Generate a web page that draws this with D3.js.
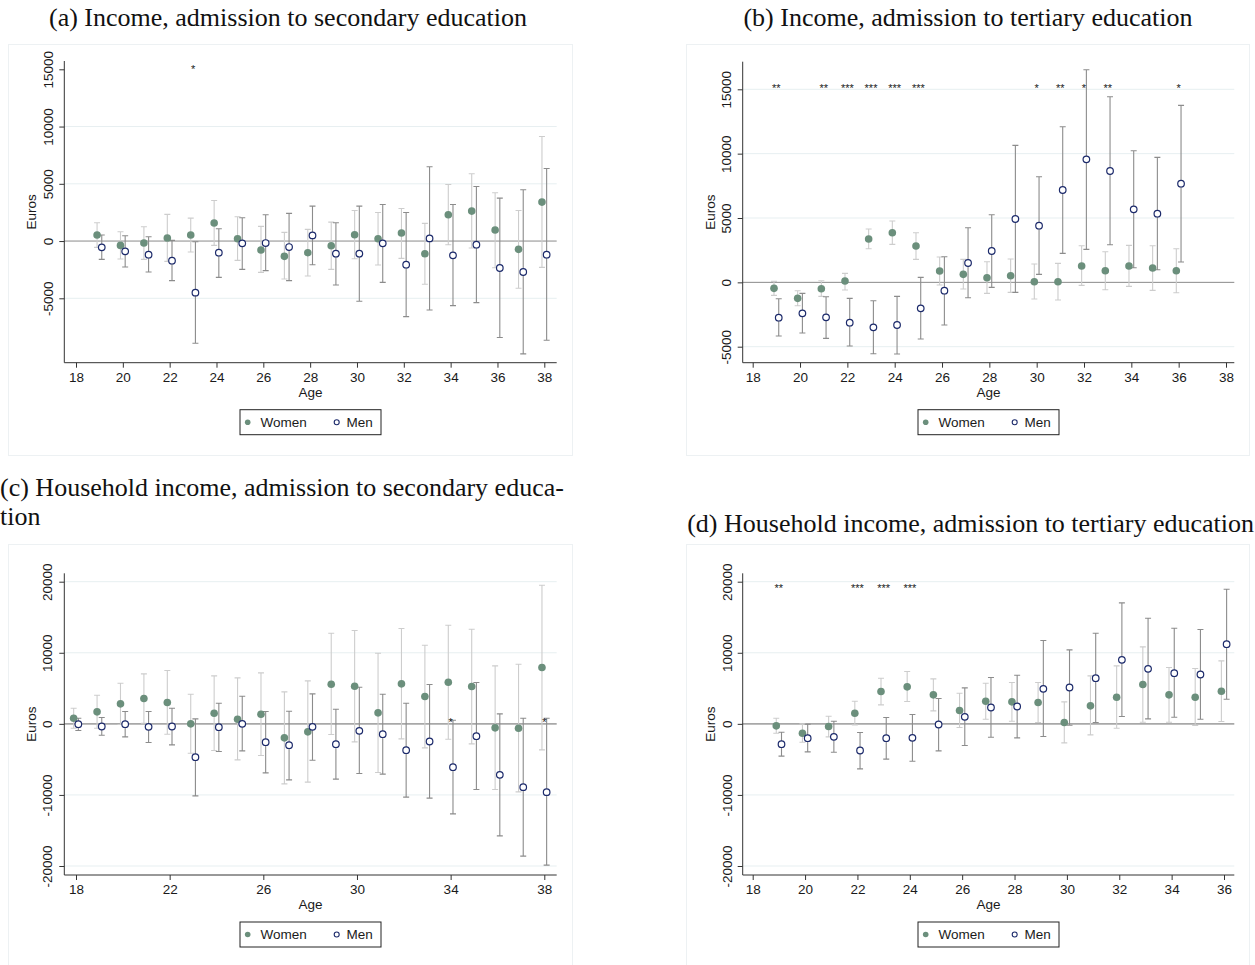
<!DOCTYPE html>
<html>
<head>
<meta charset="utf-8">
<script src="https://cdn.jsdelivr.net/npm/d3@7/dist/d3.min.js"></script>
<style>
    body { margin: 0; background: #fff; }
    svg { display: block; }
    .tick-label, .axis-title, .legend-text { font-family: "Liberation Sans", Arial, sans-serif; fill: #1a1a1a; }
    .panel-title { font-family: "Liberation Serif", "Times New Roman", serif; fill: #111; }
</style>
</head>
<body>
<svg id="base" width="1255" height="965"></svg>
<script>
// ---- data ----

// (a) Income, admission to secondary education
const agesA = [19, 20, 21, 22, 23, 24, 25, 26, 27, 28, 29, 30, 31, 32, 33, 34, 35, 36, 37, 38];
const womenA = [523, -378, -174, 262, 523, 1570, 203, -785, -1337, -1017, -407, 552, 203, 698, -1105, 2297, 2616, 959, -727, 3401];
const womenLoA = [-550, -1570, -1600, -1773, -959, -378, -1686, -2733, -3314, -3052, -2471, -1541, -2093, -1512, -3779, -320, -610, -2326, -4128, -2297];
const womenHiA = [1600, 814, 1250, 2326, 2006, 3547, 2122, 1279, 756, 1017, 1657, 2674, 2500, 2849, 1541, 4942, 5872, 4215, 2674, 9128];
const menA = [-552, -901, -1192, -1715, -4506, -1017, -203, -174, -523, 494, -1105, -1105, -203, -2064, 233, -1250, -320, -2355, -2703, -1192];
const menLoA = [-1600, -2267, -2703, -3459, -8925, -3169, -2471, -2587, -3459, -2064, -3837, -5262, -3605, -6599, -6017, -5640, -5378, -8430, -9855, -8663];
const menHiA = [523, 465, 378, 58, -58, 1076, 2035, 2297, 2413, 3052, 1599, 3052, 3198, 2500, 6483, 3198, 4767, 3750, 4477, 6337];
const starAgesA = [23];
const starsA = ["*"];

// (b) Income, admission to tertiary education
const agesB = [19, 20, 21, 22, 23, 24, 25, 26, 27, 28, 29, 30, 31, 32, 33, 34, 35, 36];
const womenB = [-466, -1243, -492, 104, 3367, 3859, 2823, 881, 622, 363, 518, 52, 52, 1269, 907, 1269, 1114, 907];
const womenLoB = [-1010, -1813, -1088, -596, 2616, 2953, 1787, -207, -518, -855, -777, -1295, -1373, -233, -570, -311, -622, -803];
const womenHiB = [78, -648, 130, 699, 4144, 4766, 3859, 1968, 1787, 1606, 1813, 1425, 1476, 2849, 2383, 2875, 2849, 2616];
const menB = [-2745, -2409, -2720, -3134, -3497, -3315, -2020, -648, 1502, 2435, 4921, 4403, 7174, 9557, 8651, 5672, 5335, 7666];
const menLoB = [-4170, -3937, -4351, -4947, -5543, -5569, -4403, -3315, -1191, -389, -777, 622, 2253, 2564, 2927, 1140, 984, 1580];
const menHiB = [-1269, -855, -1114, -1243, -1425, -1088, 389, 1994, 4248, 5258, 10645, 8210, 12095, 16524, 14426, 10231, 9713, 13753];
const starAgesB = [19, 21, 22, 23, 24, 25, 30, 31, 32, 33, 36];
const starsB = ["**", "**", "***", "***", "***", "***", "*", "**", "*", "**", "*"];

// (c) Household income, admission to secondary education
const agesC = [18, 19, 20, 21, 22, 23, 24, 25, 26, 27, 28, 29, 30, 31, 32, 33, 34, 35, 36, 37, 38];
const womenC = [797, 1688, 2813, 3564, 3001, 0, 1500, 656, 1360, -1969, -1125, 5580, 5299, 1547, 5627, 3845, 5861, 5252, -563, -610, 7924];
const womenLoC = [-610, -610, -94, 94, -1454, -4126, -3751, -5064, -4455, -8440, -8206, -1500, -2532, -6846, -2110, -3376, -2157, -2813, -9237, -9566, -3657];
const womenHiC = [2204, 4033, 5721, 7034, 7502, 4173, 6752, 6471, 7174, 4501, 6049, 12754, 13129, 9941, 13411, 11066, 13879, 13317, 8159, 8393, 19506];
const menC = [-47, -375, -47, -422, -375, -4689, -469, 0, -2579, -3001, -422, -2860, -985, -1454, -3704, -2485, -6096, -1735, -7174, -8909, -9612];
const menLoC = [-938, -1594, -1829, -2626, -2954, -10128, -3892, -3798, -6893, -7878, -5111, -7784, -6987, -7080, -10316, -10456, -12660, -9237, -15755, -18615, -19881];
const menHiC = [797, 891, 1735, 1735, 2204, 703, 2907, 3892, 1735, 1782, 4220, 2063, 5158, 4173, 2907, 5533, 516, 5814, 1407, 797, 797];
const starAgesC = [34, 38];
const starsC = ["*", "*"];

// (d) Household income, admission to tertiary education
const agesD = [19, 20, 21, 22, 23, 24, 25, 26, 27, 28, 29, 30, 31, 32, 33, 34, 35, 36];
const womenD = [-281, -1313, -375, 1500, 4548, 5205, 4080, 1876, 3189, 3095, 3001, 188, 2532, 3751, 5533, 4080, 3751, 4595];
const womenLoD = [-1313, -2579, -1829, -141, 2673, 3142, 1829, -516, 656, 375, 188, -2673, -1547, -610, 234, 234, -234, 328];
const womenHiD = [797, 0, 1078, 3189, 6424, 7362, 6330, 4314, 5721, 5814, 5814, 3095, 6752, 8159, 10832, 7924, 7784, 8862];
const menD = [-2860, -2016, -1829, -3751, -2016, -1969, -94, 985, 2298, 2438, 4923, 5111, 6424, 9003, 7737, 7127, 6940, 11207];
const menLoD = [-4548, -3939, -3986, -6330, -4970, -5252, -3798, -3048, -1876, -1969, -1782, -188, 188, 1032, 703, 938, 656, 3470];
const menHiD = [-1172, -47, 375, -1219, 891, 1313, 3564, 5064, 6518, 6846, 11723, 10410, 12754, 17021, 14864, 13457, 13270, 18944];
const starAgesD = [19, 22, 23, 24];
const starsD = ["**", "***", "***", "***"];

// tick values
const xTicksAB = [18, 20, 22, 24, 26, 28, 30, 32, 34, 36, 38];
const xTicksC = [18, 22, 26, 30, 34, 38];
const xTicksD = [18, 20, 22, 24, 26, 28, 30, 32, 34, 36];
const yTicksAB = [-5000, 0, 5000, 10000, 15000];
const yTicksCD = [-20000, -10000, 0, 10000, 20000];

// ---- drawing ----

const base = d3.select("#base");
const womenColor = "#6b8f7c";
const menColor = "#1c2a6b";
const womenCiColor = "#cdcdcd";
const menCiColor = "#8c8c8c";
const gridColor = "#e7eff1";

function makePanel(p) {
    const g = base.append("g");

    // graph region outline
    g.append("rect")
        .attr("x", p.region[0]).attr("y", p.region[1])
        .attr("width", p.region[2]).attr("height", p.region[3])
        .attr("fill", "none").attr("stroke", "#edf1f3").attr("stroke-width", 1);

    const x = d3.scaleLinear().domain(p.xDomain).range(p.xRange);
    const y = d3.scaleLinear().domain(p.yDomain).range(p.yRange);

    // gridlines
    g.selectAll(".grid")
        .data(p.yTicks.filter((t) => t !== 0 && !p.noGrid.includes(t)))
        .enter()
        .append("line")
        .attr("x1", p.left).attr("x2", p.right)
        .attr("y1", (d) => y(d)).attr("y2", (d) => y(d))
        .attr("stroke", gridColor).attr("stroke-width", 1);

    // zero line
    g.append("line")
        .attr("x1", p.left).attr("x2", p.right)
        .attr("y1", y(0)).attr("y2", y(0))
        .attr("stroke", p.zeroColor).attr("stroke-width", p.zeroWidth);

    // axes (Stata prints a plain hyphen for negatives)
    const fmt = (d) => String(d);
    const yAxis = d3.axisLeft(y).tickValues(p.yTicks).tickSize(5).tickFormat(fmt);
    const yg = g.append("g").attr("transform", `translate(${p.left},0)`).call(yAxis);
    yg.select(".domain").attr("d", `M0,${p.top}V${p.bottom}`).attr("stroke", "#333");
    yg.selectAll(".tick line").attr("stroke", "#333");
    yg.selectAll(".tick text")
        .attr("class", "tick-label")
        .attr("font-size", "13.5px")
        .attr("text-anchor", "middle")
        .attr("x", null).attr("dy", null)
        .attr("transform", "translate(" + (p.yLabelX - p.left + 4.8) + ",0) rotate(-90)")
        .attr("y", 0);

    const xAxis = d3.axisBottom(x).tickValues(p.xTicks).tickSize(5).tickFormat(fmt);
    const xg = g.append("g").attr("transform", `translate(0,${p.bottom})`).call(xAxis);
    xg.select(".domain").attr("d", `M${p.left},0H${p.right}`).attr("stroke", "#333");
    xg.selectAll(".tick line").attr("stroke", "#333");
    xg.selectAll(".tick text")
        .attr("class", "tick-label")
        .attr("font-size", "13.5px")
        .attr("dy", null)
        .attr("y", 19);
    base.selectAll(".domain, .tick line").attr("stroke-width", 1);
    g.selectAll("g").attr("font-family", null).attr("font-size", null);

    // axis titles
    g.append("text")
        .attr("class", "axis-title")
        .attr("font-size", "13.5px")
        .attr("text-anchor", "middle")
        .attr("x", (p.left + p.right) / 2)
        .attr("y", p.bottom + 34)
        .text("Age");
    g.append("text")
        .attr("class", "axis-title")
        .attr("font-size", "13.5px")
        .attr("text-anchor", "middle")
        .attr("transform", `translate(${p.yTitleX + 4.8},${(p.top + p.bottom) / 2}) rotate(-90)`)
        .text("Euros");

    // confidence intervals
    function ci(ages, lo, hi, off, color) {
        const rows = ages.map((a, i) => ({ a: a + off, lo: lo[i], hi: hi[i] }));
        const cg = g.append("g").attr("stroke", color).attr("stroke-width", 1.1).attr("fill", "none");
        cg.selectAll("path")
            .data(rows)
            .enter()
            .append("path")
            .attr("d", (d) => {
                const cx = x(d.a), y0 = y(d.lo), y1 = y(d.hi);
                return `M${cx - 3},${y0}H${cx + 3}M${cx},${y0}V${y1}M${cx - 3},${y1}H${cx + 3}`;
            });
    }
    ci(p.ages, p.womenLo, p.womenHi, -0.1, womenCiColor);
    ci(p.ages, p.menLo, p.menHi, 0.1, menCiColor);

    // point estimates
    g.selectAll(".women")
        .data(p.ages)
        .enter()
        .append("circle")
        .attr("cx", (d) => x(d - 0.1))
        .attr("cy", (d, i) => y(p.women[i]))
        .attr("r", 3.8)
        .attr("fill", womenColor);
    g.selectAll(".men")
        .data(p.ages)
        .enter()
        .append("circle")
        .attr("cx", (d) => x(d + 0.1))
        .attr("cy", (d, i) => y(p.men[i]))
        .attr("r", 3.3)
        .attr("fill", "#fff")
        .attr("stroke", menColor)
        .attr("stroke-width", 1.2);

    // significance stars
    g.selectAll(".star")
        .data(p.starAges)
        .enter()
        .append("text")
        .attr("class", "axis-title")
        .attr("font-size", "11px")
        .attr("text-anchor", "middle")
        .attr("x", (d) => x(d))
        .attr("y", p.starY + 6)
        .text((d, i) => p.stars[i]);

    // legend
    const lx = (p.left + p.right) / 2 - 70.5;
    const ly = p.bottom + 47;
    const lg = g.append("g");
    lg.append("rect")
        .attr("x", lx).attr("y", ly).attr("width", 141).attr("height", 25)
        .attr("fill", "#fff").attr("stroke", "#222").attr("stroke-width", 1);
    lg.append("circle").attr("cx", lx + 7.7).attr("cy", ly + 12.5).attr("r", 2.8).attr("fill", womenColor);
    lg.append("text").attr("class", "legend-text").attr("font-size", "13.5px")
        .attr("x", lx + 20.5).attr("y", ly + 17.3).text("Women");
    lg.append("circle").attr("cx", lx + 96.7).attr("cy", ly + 12.5).attr("r", 2.5)
        .attr("fill", "#fff").attr("stroke", menColor).attr("stroke-width", 1.1);
    lg.append("text").attr("class", "legend-text").attr("font-size", "13.5px")
        .attr("x", lx + 106.5).attr("y", ly + 17.3).text("Men");
}

makePanel({
    region: [8.5, 44.5, 564, 411], left: 64.3, right: 556.7, top: 61, bottom: 362.7,
    xDomain: [18, 38], xRange: [76, 544.3], yDomain: [-5000, 15000], yRange: [298.3, 69.3],
    xTicks: xTicksAB, yTicks: yTicksAB, noGrid: [15000], yLabelX: 48.3, yTitleX: 31,
    zeroColor: "#8a8a8a", zeroWidth: 1, starY: 66.7,
    ages: agesA, women: womenA, womenLo: womenLoA, womenHi: womenHiA,
    men: menA, menLo: menLoA, menHi: menHiA, starAges: starAgesA, stars: starsA
});
makePanel({
    region: [686.5, 44.5, 563, 411], left: 742.7, right: 1234.3, top: 61.7, bottom: 362.7,
    xDomain: [18, 38], xRange: [752.7, 1226], yDomain: [-5000, 15000], yRange: [346.7, 89.3],
    xTicks: xTicksAB, yTicks: yTicksAB, noGrid: [], yLabelX: 725.7, yTitleX: 710,
    zeroColor: "#8a8a8a", zeroWidth: 1, starY: 86,
    ages: agesB, women: womenB, womenLo: womenLoB, womenHi: womenHiB,
    men: menB, menLo: menLoB, menHi: menHiB, starAges: starAgesB, stars: starsB
});
makePanel({
    region: [8.5, 544.5, 564, 430], left: 64.3, right: 556.7, top: 573.3, bottom: 875,
    xDomain: [18, 38], xRange: [76, 544.3], yDomain: [-20000, 20000], yRange: [866, 581.7],
    xTicks: xTicksC, yTicks: yTicksCD, noGrid: [], yLabelX: 46.7, yTitleX: 31,
    zeroColor: "#a8a8a8", zeroWidth: 1.6, starY: 720,
    ages: agesC, women: womenC, womenLo: womenLoC, womenHi: womenHiC,
    men: menC, menLo: menLoC, menHi: menHiC, starAges: starAgesC, stars: starsC
});
makePanel({
    region: [686.5, 544.5, 563, 430], left: 742.7, right: 1234.3, top: 573.3, bottom: 875,
    xDomain: [18, 36], xRange: [752.7, 1224], yDomain: [-20000, 20000], yRange: [866, 581.7],
    xTicks: xTicksD, yTicks: yTicksCD, noGrid: [], yLabelX: 726.7, yTitleX: 710,
    zeroColor: "#a8a8a8", zeroWidth: 1.6, starY: 585.7,
    ages: agesD, women: womenD, womenLo: womenLoD, womenHi: womenHiD,
    men: menD, menLo: menLoD, menHi: menHiD, starAges: starAgesD, stars: starsD
});

// panel titles (LaTeX subcaptions)
const titles = base.append("g").attr("class", "panel-title").attr("font-size", "26px");
titles.append("text").attr("x", 288).attr("y", 26).attr("text-anchor", "middle")
    .text("(a) Income, admission to secondary education");
titles.append("text").attr("x", 968).attr("y", 26).attr("text-anchor", "middle")
    .text("(b) Income, admission to tertiary education");
titles.append("text").attr("x", 0).attr("y", 496)
    .text("(c) Household income, admission to secondary educa-");
titles.append("text").attr("x", 0).attr("y", 525)
    .text("tion");
titles.append("text").attr("x", 1254).attr("y", 532).attr("text-anchor", "end")
    .text("(d) Household income, admission to tertiary education");
</script>
</body>
</html>
